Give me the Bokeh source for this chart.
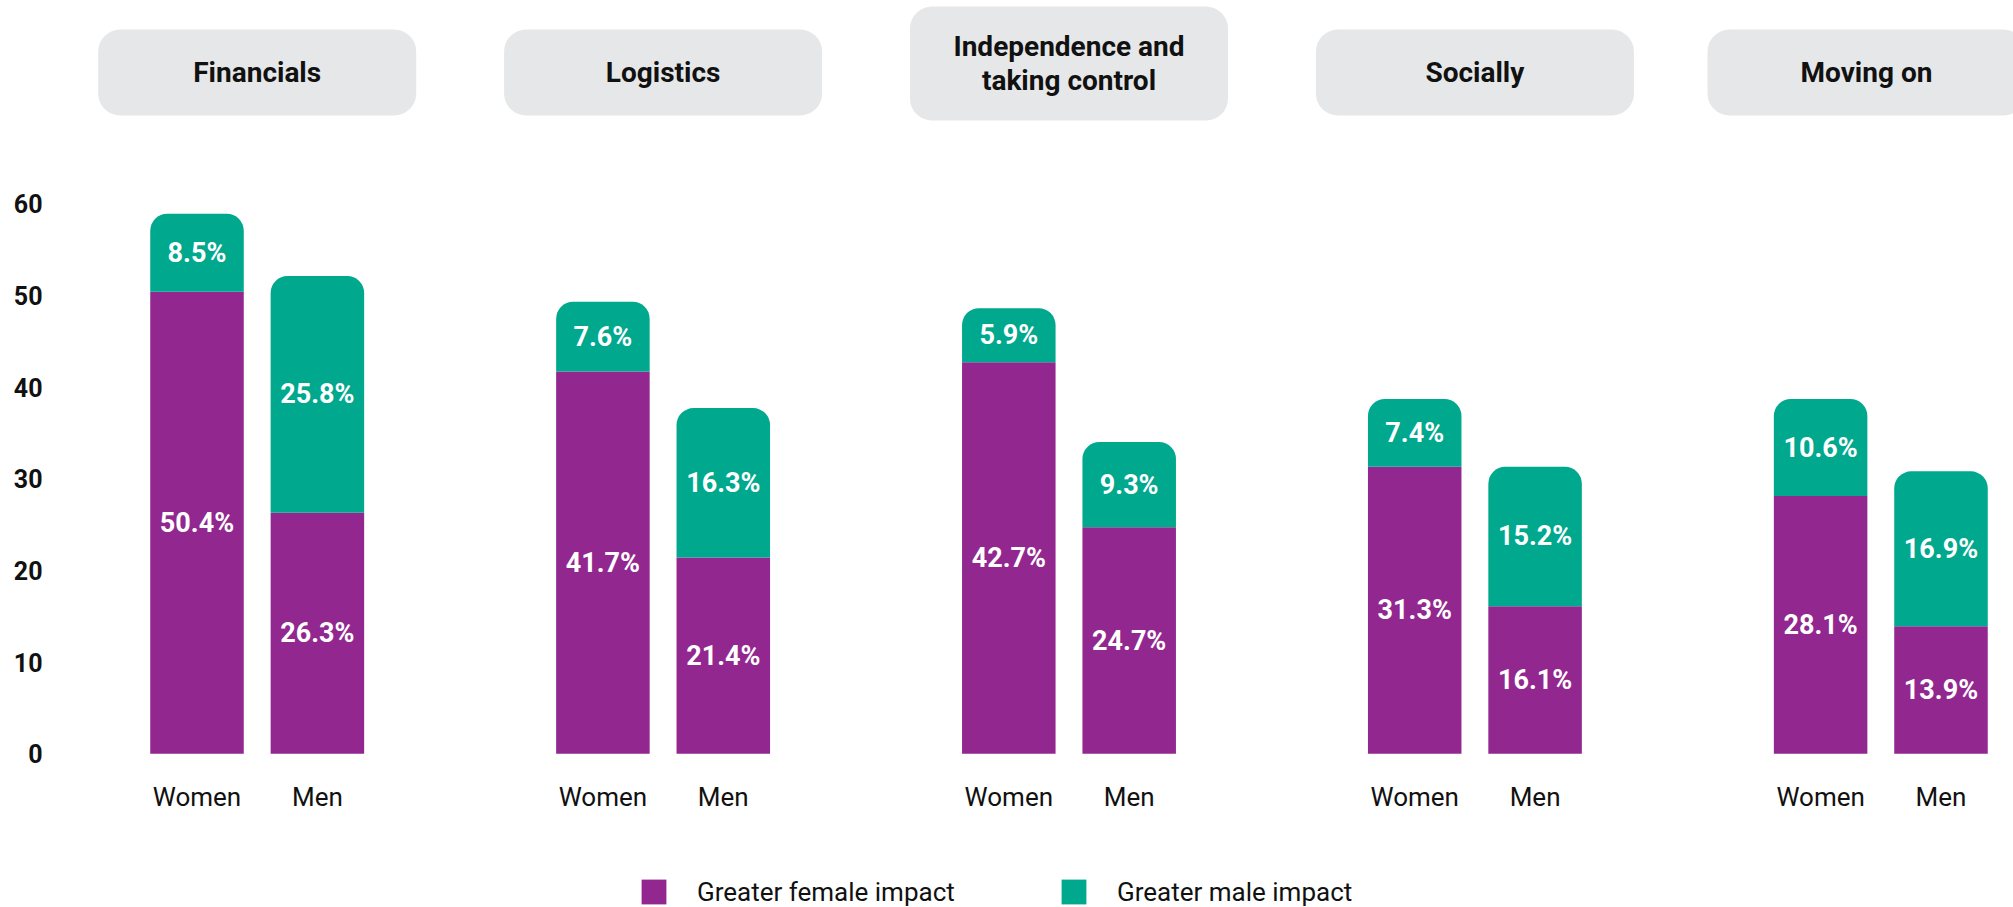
import textwrap
from bokeh.plotting import figure
from bokeh.models import (ColumnDataSource, Range1d, FixedTicker,
                          Legend, LegendItem)
from bokeh.core.properties import value
from bokeh.embed import file_html
from bokeh.resources import INLINE

# ---------------- data ----------------
categories = ["Financials", "Logistics", "Independence and taking control",
              "Socially", "Moving on"]
genders = ["Women", "Men"]
female_women = [50.4, 41.7, 42.7, 31.3, 28.1]   # Greater female impact, women
female_men = [26.3, 21.4, 24.7, 16.1, 13.9]     # Greater female impact, men
male_women = [8.5, 7.6, 5.9, 7.4, 10.6]         # Greater male impact, women
male_men = [25.8, 16.3, 9.3, 15.2, 16.9]        # Greater male impact, men
y_ticks = [0, 10, 20, 30, 40, 50, 60]
legend_labels = ["Greater female impact", "Greater male impact"]

# ---------------- style / layout ----------------
PURPLE = "#92278F"
TEAL = "#00A88E"
GREY = "#E6E7E8"
INK = "#111111"
FONT = value("Roboto")

FIG_W, FIG_H = 2013, 907
LEFT = 60                          # frame left (px)
ZERO_PX = 753.3                    # screen y of value 0
PPU = 9.17                         # px per value unit
GROUP_PX = 405.9                   # px between category groups
FIRST_GROUP_PX = 256.7             # screen x of first group centre
PAIR_OFF = 0.1483                  # women/men offset from group centre
BAR_W = 0.2304                     # bar width (group units)

y_start = -(FIG_H - ZERO_PX) / PPU
y_end = ZERO_PX / PPU
x_start = -(FIRST_GROUP_PX - LEFT) / GROUP_PX
x_end = (FIG_W - FIRST_GROUP_PX) / GROUP_PX


def yval(screen_y):
    return (ZERO_PX - screen_y) / PPU


# ---------------- sources ----------------
xs, gl, female, male = [], [], [], []
for i, c in enumerate(categories):
    for j, g in enumerate(genders):
        xs.append(i + (j - 0.5) * 2 * PAIR_OFF)
        gl.append(g)
    female += [female_women[i], female_men[i]]
    male += [male_women[i], male_men[i]]

src = ColumnDataSource(dict(
    x=xs, gender=gl, female=female, male=male,
    total=[f + m for f, m in zip(female, male)],
    f_mid=[f / 2 for f in female],
    m_mid=[f + m / 2 for f, m in zip(female, male)],
    f_lab=[f"{v}%" for v in female],
    m_lab=[f"{v}%" for v in male],
    g_y=[yval(796)] * len(xs),
))

p = figure(x_range=Range1d(x_start, x_end), y_range=Range1d(y_start, y_end),
           width=FIG_W, height=FIG_H,
           min_border_left=LEFT, min_border_right=0,
           min_border_top=0, min_border_bottom=0,
           x_axis_location=None,
           output_backend="svg", toolbar_location=None)

# ---------------- headers ----------------
hdr_text = [textwrap.fill(c, 17) for c in categories]
hdr_two = ["\n" in t for t in hdr_text]
max_hx = x_end - (318 / 2 - 12) / GROUP_PX
hsrc = ColumnDataSource(dict(
    x=[min(i, max_hx) for i in range(len(categories))], text=hdr_text,
    y=[yval(63) if two else yval(72) for two in hdr_two],
    h=[114 if two else 86 for two in hdr_two],
))
p.rect(x="x", y="y", width=318, height="h", width_units="screen",
       height_units="screen", border_radius=22, fill_color=GREY,
       line_color=None, source=hsrc)
p.text(x="x", y="y", text="text", source=hsrc, text_align="center",
       text_baseline="middle", text_font=FONT, text_font_style="bold",
       text_font_size="28px", text_color=INK, text_line_height=1.06)

# ---------------- bars ----------------
r_f = p.vbar(x="x", bottom=0, top="female", width=BAR_W, fill_color=PURPLE,
             line_color=None, source=src)
r_m = p.vbar(x="x", bottom="female", top="total", width=BAR_W,
             fill_color=TEAL, line_color=None, border_radius=(17, 17, 0, 0),
             source=src)

lab_kw = dict(text_align="center", text_baseline="middle", text_font=FONT,
              text_font_style="bold", text_font_size="27px",
              text_color="white", source=src)
p.text(x="x", y="f_mid", text="f_lab", **lab_kw)
p.text(x="x", y="m_mid", text="m_lab", **lab_kw)

# category labels under bars
p.text(x="x", y="g_y", text="gender", source=src, text_align="center",
       text_baseline="middle", text_font=FONT, text_font_size="26px",
       text_color=INK)

# ---------------- axes ----------------
p.xgrid.grid_line_color = None
p.ygrid.grid_line_color = None
p.outline_line_color = None

ya = p.yaxis[0]
ya.ticker = FixedTicker(ticks=y_ticks)
ya.axis_line_color = None
ya.major_tick_line_color = None
ya.minor_tick_line_color = None
ya.major_tick_out = 0
ya.major_label_standoff = LEFT - 42
ya.major_label_text_font = "Roboto"
ya.major_label_text_font_style = "bold"
ya.major_label_text_font_size = "25px"
ya.major_label_text_color = INK

# ---------------- legend ----------------
for r, lab, lx in [(r_f, legend_labels[0], 638 - LEFT),
                   (r_m, legend_labels[1], 1058 - LEFT)]:
    leg = Legend(items=[LegendItem(label=lab, renderers=[r])],
                 location=(lx, 0), orientation="horizontal",
                 glyph_width=31, glyph_height=31, label_standoff=28,
                 padding=0, margin=0, border_line_color=None,
                 background_fill_alpha=0, label_text_font="Roboto",
                 label_text_font_size="26px", label_text_color=INK,
                 label_height=31)
    p.add_layout(leg)

open("out.html", "w").write(file_html(p, INLINE))
